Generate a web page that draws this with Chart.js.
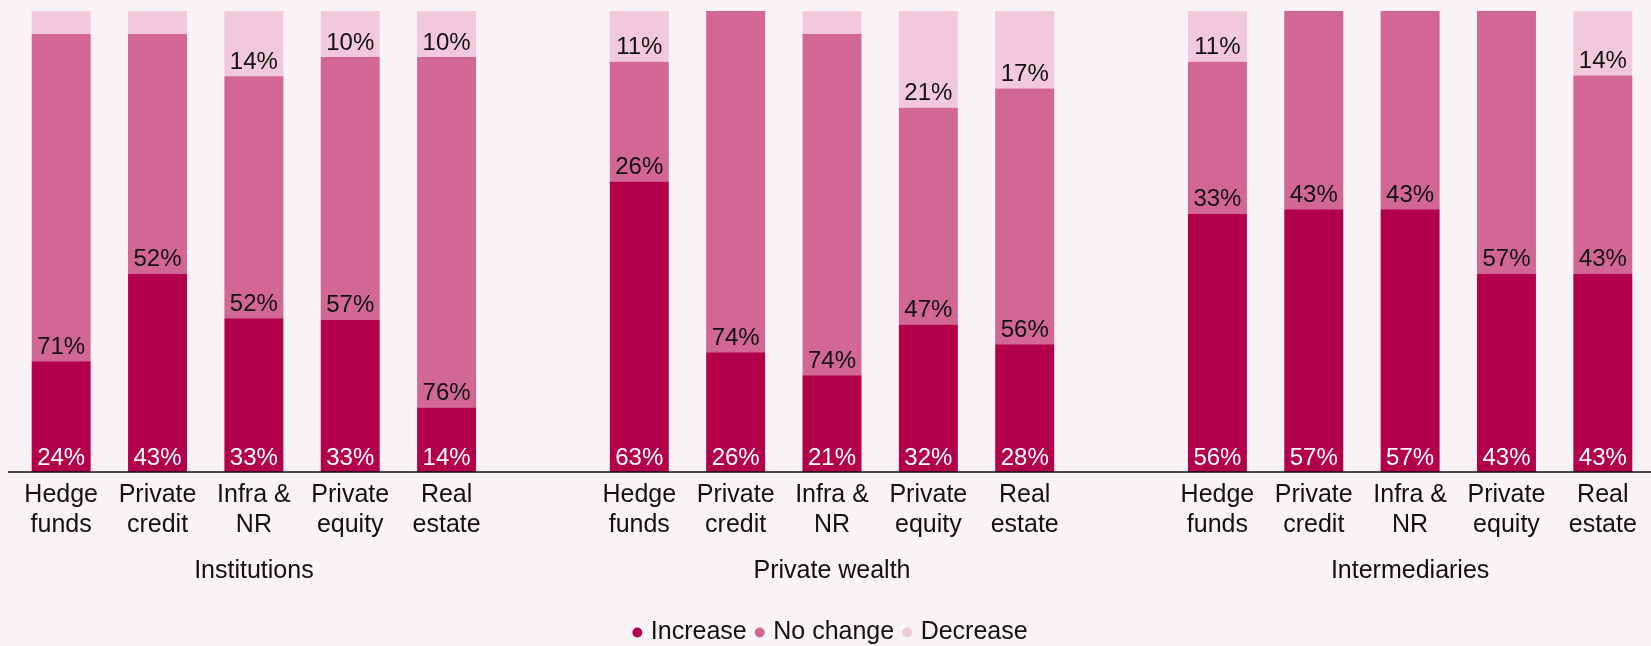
<!DOCTYPE html>
<html>
<head>
<meta charset="utf-8">
<script src="https://cdn.jsdelivr.net/npm/chart.js@4.4.0/dist/chart.umd.min.js"></script>
<style>
  html, body { margin: 0; padding: 0; background: #faf3f6; overflow: hidden; }
  #wrap { width: 1651px; height: 646px; overflow: hidden; }
  #inner { width: 1651px; height: 655px; position: relative; }
</style>
</head>
<body>
<div id="wrap"><div id="inner"><canvas id="allocChart"></canvas></div></div>
<script>
// Investor groups and asset classes
const groups = ['Institutions', 'Private wealth', 'Intermediaries'];
const assetClasses = [['Hedge', 'funds'], ['Private', 'credit'], ['Infra &', 'NR'], ['Private', 'equity'], ['Real', 'estate']];

// Share of respondents (%), 5 asset classes per group, groups in order above
const increase = [24, 43, 33, 33, 14,   63, 26, 21, 32, 28,   56, 57, 57, 43, 43];
const noChange = [71, 52, 52, 57, 76,   26, 74, 74, 47, 56,   33, 43, 43, 57, 43];
const decrease = [5, 5, 14, 10, 10,     11, 0, 5, 21, 17,     11, 0, 0, 0, 14];

const colIncrease = '#b3004b';
const colNoChange = '#d26793';
const colDecrease = '#f2c9da';

// Build the x slots: 5 bars per group with an empty slot in between
const tickLabels = [];
const groupLabels = [];
const slotIndex = []; // slot -> data index (or -1 for a spacer)
groups.forEach(function (g, gi) {
    if (gi > 0) { tickLabels.push(''); groupLabels.push(''); slotIndex.push(-1); }
    assetClasses.forEach(function (a, ai) {
        tickLabels.push(a);
        groupLabels.push(ai === 2 ? g : '');
        slotIndex.push(gi * 5 + ai);
    });
});

// 100% stacked: each bar scaled to its own total
function toSlots(values) {
    return slotIndex.map(function (i) {
        if (i < 0) return null;
        const total = increase[i] + noChange[i] + decrease[i];
        return values[i] / total * 100;
    });
}
function rawSlots(values) {
    return slotIndex.map(function (i) { return i < 0 ? null : values[i]; });
}

const rawBySeries = [rawSlots(increase), rawSlots(noChange), rawSlots(decrease)];

// Draws the % labels just above the bottom of each segment, plus the baseline
const segmentLabels = {
    id: 'segmentLabels',
    afterDatasetsDraw(chart) {
        const ctx = chart.ctx;
        ctx.save();
        // baseline runs a little past the plot area on the left
        const y0 = chart.scales.y.getPixelForValue(0);
        ctx.strokeStyle = '#111111';
        ctx.lineWidth = 1.5;
        ctx.beginPath();
        ctx.moveTo(8, y0);
        ctx.lineTo(chart.width, y0);
        ctx.stroke();

        ctx.font = '24px "Liberation Sans", Arial, sans-serif';
        ctx.textAlign = 'center';
        ctx.textBaseline = 'alphabetic';
        chart.data.datasets.forEach(function (ds, di) {
            const meta = chart.getDatasetMeta(di);
            meta.data.forEach(function (bar, i) {
                const v = rawBySeries[di][i];
                if (v === null || v < 10) return;
                ctx.fillStyle = di === 0 ? '#ffffff' : '#111111';
                ctx.fillText(v + '%', bar.x, bar.base - 7.5);
            });
        });
        ctx.restore();
    }
};

document.addEventListener('DOMContentLoaded', function () {
    const ctx = document.getElementById('allocChart').getContext('2d');
    Chart.defaults.font.family = '"Liberation Sans", Arial, sans-serif';
    Chart.defaults.color = '#111111';

    new Chart(ctx, {
        type: 'bar',
        data: {
            labels: tickLabels,
            datasets: [
                { label: 'Increase', data: toSlots(increase), backgroundColor: colIncrease },
                { label: 'No change', data: toSlots(noChange), backgroundColor: colNoChange },
                { label: 'Decrease', data: toSlots(decrease), backgroundColor: colDecrease }
            ]
        },
        options: {
            responsive: true,
            maintainAspectRatio: false,
            animation: false,
            layout: { padding: { top: 11, left: 13, right: 0, bottom: 0 } },
            datasets: {
                bar: { categoryPercentage: 1, barPercentage: 0.612, borderWidth: 0 }
            },
            scales: {
                x: {
                    stacked: true,
                    weight: 0,
                    grid: { display: false, drawTicks: false },
                    border: { display: false },
                    ticks: {
                        autoSkip: false,
                        maxRotation: 0,
                        padding: 8,
                        color: '#111111',
                        font: { size: 25, lineHeight: 1.2 }
                    }
                },
                x2: {
                    type: 'category',
                    position: 'bottom',
                    weight: 1,
                    labels: groupLabels,
                    grid: { display: false, drawTicks: false },
                    border: { display: false },
                    ticks: {
                        autoSkip: false,
                        maxRotation: 0,
                        padding: 3.5,
                        color: '#111111',
                        font: { size: 25, lineHeight: 1.56 }
                    }
                },
                y: {
                    stacked: true,
                    display: false,
                    min: 0,
                    max: 100
                }
            },
            plugins: {
                tooltip: { enabled: false },
                legend: {
                    position: 'bottom',
                    // empty title only adds space above the legend row
                    title: { display: true, text: '', padding: 0, font: { size: 14, lineHeight: 1 } },
                    labels: {
                        usePointStyle: true,
                        pointStyle: 'circle',
                        boxWidth: 2,
                        boxHeight: 7,
                        padding: 12,
                        color: '#111111',
                        font: { size: 25 }
                    }
                }
            }
        },
        plugins: [segmentLabels]
    });
});
</script>
</body>
</html>
